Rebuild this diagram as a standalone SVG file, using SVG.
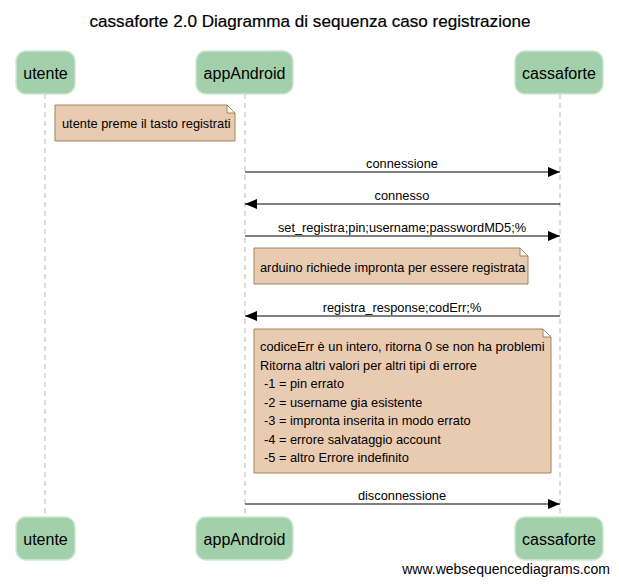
<svg xmlns="http://www.w3.org/2000/svg" width="619" height="584" viewBox="0 0 619 584">
<style>
text{font-family:"Liberation Sans",Arial,sans-serif;fill:#000}
.title{font-size:17px;text-anchor:middle;stroke:#000;stroke-width:0.2}
.part rect{fill:#a2d0aa;stroke:#cfe8d3;stroke-width:1.5}
.part text{font-size:16px;text-anchor:middle}
.life{stroke:#b8b8b8;stroke-width:1;stroke-dasharray:5,4;fill:none}
.msg{stroke:#000;stroke-width:1;fill:none}
.lbl{font-size:12.8px;text-anchor:middle}
.note path{fill:#e8cbb1;stroke:#a4845a;stroke-width:1}
.note text{font-size:12.8px}
</style>
<defs>
<marker id="ah" markerWidth="12" markerHeight="10" refX="12" refY="5" orient="auto" markerUnits="userSpaceOnUse">
<path d="M0,0 L12,5 L0,10 Z" fill="#000"/>
</marker>
</defs>
<rect width="619" height="584" fill="#fff"/>
<text class="title" x="310" y="27" textLength="441" lengthAdjust="spacingAndGlyphs">cassaforte 2.0 Diagramma di sequenza caso registrazione</text>
<g id="lifelines">
<line class="life" x1="45" y1="94" x2="45" y2="517"/>
<line class="life" x1="245" y1="94" x2="245" y2="517"/>
<line class="life" x1="560" y1="94" x2="560" y2="517"/>
</g>
<g id="utente" class="part">
<rect x="16" y="51" width="59" height="43" rx="10"/>
<text x="45.5" y="79">utente</text>
<rect x="16" y="517" width="59" height="43" rx="10"/>
<text x="45.5" y="545">utente</text>
</g>
<g id="appAndroid" class="part">
<rect x="196" y="51" width="97" height="43" rx="10"/>
<text x="244.5" y="79">appAndroid</text>
<rect x="196" y="517" width="97" height="43" rx="10"/>
<text x="244.5" y="545">appAndroid</text>
</g>
<g id="cassaforte" class="part">
<rect x="515" y="51" width="88" height="43" rx="10"/>
<text x="559" y="79">cassaforte</text>
<rect x="515" y="517" width="88" height="43" rx="10"/>
<text x="559" y="545">cassaforte</text>
</g>
<g id="note1" class="note">
<path d="M55,105 H227 L235,113 V141 H55 Z M227,105 V113 H235"/>
<text x="62" y="128">utente preme il tasto registrati</text>
</g>
<g id="note2" class="note">
<path d="M254,248 H520 L528,256 V284 H254 Z M520,248 V256 H528"/>
<text x="260" y="272">arduino richiede impronta per essere registrata</text>
</g>
<g id="note3" class="note">
<path d="M254,329 H543 L551,337 V473 H254 Z M543,329 V337 H551"/>
<text x="260" y="351">codiceErr è un intero, ritorna 0 se non ha problemi</text>
<text x="260" y="370">Ritorna altri valori per altri tipi di errore</text>
<text x="264" y="388">-1 = pin errato</text>
<text x="264" y="407">-2 = username gia esistente</text>
<text x="264" y="425">-3 = impronta inserita in modo errato</text>
<text x="264" y="444">-4 = errore salvataggio account</text>
<text x="264" y="462">-5 = altro Errore indefinito</text>
</g>
<g id="connectors">
<line class="msg" x1="245" y1="172" x2="560" y2="172" marker-end="url(#ah)"/>
<text class="lbl" x="402" y="168">connessione</text>
<line class="msg" x1="560" y1="204" x2="245" y2="204" marker-end="url(#ah)"/>
<text class="lbl" x="402" y="200">connesso</text>
<line class="msg" x1="245" y1="236" x2="560" y2="236" marker-end="url(#ah)"/>
<text class="lbl" x="402" y="232">set_registra;pin;username;passwordMD5;%</text>
<line class="msg" x1="560" y1="316" x2="245" y2="316" marker-end="url(#ah)"/>
<text class="lbl" x="402" y="312">registra_response;codErr;%</text>
<line class="msg" x1="245" y1="504" x2="560" y2="504" marker-end="url(#ah)"/>
<text class="lbl" x="402" y="500">disconnessione</text>
</g>
<text x="610" y="574" font-size="14" text-anchor="end">www.websequencediagrams.com</text>
</svg>
